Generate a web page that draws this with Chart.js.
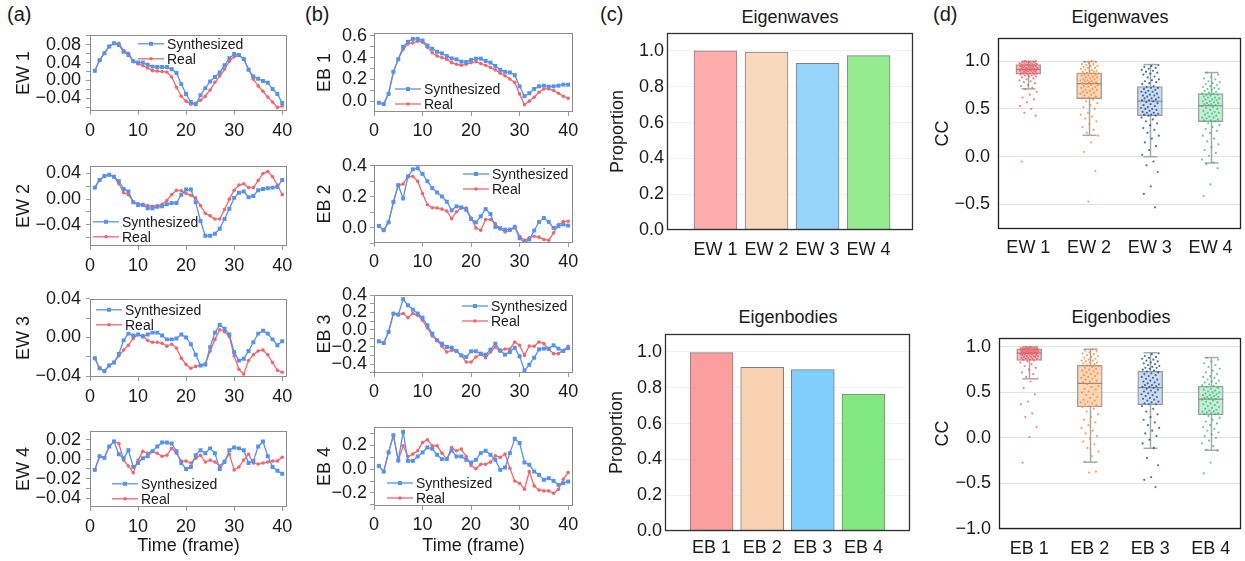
<!DOCTYPE html>
<html>
<head>
<meta charset="utf-8">
<script src="https://cdn.jsdelivr.net/npm/chart.js@4.4.0/dist/chart.umd.min.js"></script>
<style>
  body { margin: 0; background: #fff; width: 1245px; height: 561px; position: relative; overflow: hidden;
         font-family: "Liberation Sans", Arial, sans-serif; color: #1a1a1a; }
  canvas { position: absolute; }
  .panel { position: absolute; font-size: 20px; line-height: 20px; }
  .ttl { position: absolute; font-size: 18px; line-height: 18px; transform: translateX(-50%); white-space: nowrap; }
</style>
</head>
<body>
<div class="panel" style="left:7px;top:4px">(a)</div>
<div class="panel" style="left:305px;top:4px">(b)</div>
<div class="panel" style="left:600px;top:4px">(c)</div>
<div class="panel" style="left:933px;top:4px">(d)</div>
<div class="ttl" style="left:790px;top:8px">Eigenwaves</div>
<div class="ttl" style="left:788px;top:308px">Eigenbodies</div>
<div class="ttl" style="left:1120px;top:8px">Eigenwaves</div>
<div class="ttl" style="left:1121px;top:308px">Eigenbodies</div>
<script>
// ---- Data ----
const frames = [1,2,3,4,5,6,7,8,9,10,11,12,13,14,15,16,17,18,19,20,
                21,22,23,24,25,26,27,28,29,30,31,32,33,34,35,36,37,38,39,40];

// (a) eigenwaves, synthesized vs real
const ew1Synth = [0.022,0.045,0.061,0.076,0.083,0.079,0.064,0.057,0.043,0.040, 0.040,0.035,0.031,0.030,0.030,0.030,0.025,0.017,-0.008,-0.030,
                  -0.048,-0.053,-0.033,-0.017,-0.002,0.008,0.018,0.034,0.050,0.059, 0.057,0.048,0.024,0.009,0.004,-0.001,-0.005,-0.019,-0.030,-0.050];
const ew1Real  = [0.022,0.045,0.061,0.076,0.083,0.083,0.067,0.061,0.044,0.037, 0.033,0.028,0.022,0.021,0.020,0.019,0.008,-0.015,-0.035,-0.046,
                  -0.053,-0.051,-0.044,-0.035,-0.021,-0.004,0.010,0.025,0.043,0.053, 0.056,0.048,0.025,0.003,-0.012,-0.024,-0.037,-0.048,-0.060,-0.057];
const ew2Synth = [0.018,0.030,0.036,0.038,0.035,0.028,0.016,0.012,-0.005,-0.009, -0.009,-0.014,-0.014,-0.012,-0.011,-0.008,-0.006,-0.006,0.007,0.015,
                  0.015,-0.005,-0.034,-0.057,-0.057,-0.054,-0.046,-0.031,-0.015,0.002, 0.010,0.012,0.003,0.005,0.014,0.016,0.017,0.018,0.019,0.030];
const ew2Real  = [0.018,0.030,0.036,0.038,0.035,0.024,0.010,0.007,-0.004,-0.007, -0.008,-0.010,-0.011,-0.010,-0.008,-0.002,0.007,0.014,0.013,0.009,
                  0.006,0.002,-0.010,-0.022,-0.026,-0.031,-0.031,-0.016,0.000,0.014, 0.022,0.024,0.018,0.018,0.029,0.040,0.043,0.035,0.022,0.007];
const ew3Synth = [-0.0215,-0.032,-0.035,-0.029,-0.026,-0.017,-0.003,0.004,0.002,0.003, 0.001,0.003,0.005,0.005,0.002,-0.002,-0.002,-0.001,0.003,0.000,
                  -0.007,-0.018,-0.029,-0.028,-0.010,0.005,0.013,0.009,0.003,-0.015, -0.024,-0.022,-0.014,-0.005,0.004,0.007,0.004,-0.002,-0.008,-0.004];
const ew3Real  = [-0.0215,-0.032,-0.035,-0.029,-0.026,-0.019,-0.013,-0.008,-0.001,0.003, 0.002,-0.003,-0.005,-0.005,-0.006,-0.009,-0.007,-0.011,-0.0215,-0.028,
                  -0.032,-0.030,-0.029,-0.028,-0.014,-0.002,0.008,0.006,0.001,-0.019, -0.033,-0.038,-0.024,-0.018,-0.014,-0.013,-0.018,-0.026,-0.034,-0.036];
const ew4Synth = [-0.011,0.003,0.0013,0.013,0.018,0.005,0.001,0.009,-0.008,-0.004, 0.001,0.003,0.008,0.013,0.017,0.017,0.016,0.008,-0.004,-0.010,
                  -0.008,0.004,0.009,0.006,0.011,0.006,-0.010,-0.003,0.009,0.012, 0.011,0.009,-0.004,-0.002,0.013,0.018,0.003,-0.008,-0.012,-0.015];
const ew4Real  = [-0.011,0.003,0.0013,0.013,0.018,0.016,-0.001,-0.007,-0.014,-0.001, 0.008,0.006,0.008,0.006,0.003,0.004,0.011,0.006,-0.002,-0.002,
                  -0.004,0.001,0.004,-0.003,-0.001,-0.003,-0.007,-0.002,0.005,-0.011, -0.008,-0.001,0.005,-0.004,-0.005,-0.004,-0.003,-0.002,-0.002,0.002];

// (b) eigenbodies, synthesized vs real
const eb1Synth = [-0.012,-0.024,0.069,0.27,0.384,0.498,0.543,0.57,0.57,0.555, 0.51,0.48,0.453,0.438,0.414,0.393,0.384,0.363,0.36,0.378,
                  0.39,0.39,0.369,0.354,0.324,0.288,0.27,0.264,0.24,0.138, 0.048,0.075,0.114,0.138,0.144,0.135,0.138,0.144,0.153,0.153];
const eb1Real  = [-0.012,-0.024,0.069,0.27,0.384,0.474,0.525,0.534,0.549,0.54, 0.495,0.444,0.414,0.40,0.384,0.354,0.339,0.33,0.339,0.354,
                  0.363,0.345,0.33,0.309,0.288,0.258,0.234,0.204,0.174,0.069, -0.03,0.003,0.039,0.084,0.114,0.114,0.099,0.075,0.048,0.03];
const eb2Synth = [0.011,-0.017,0.034,0.166,0.275,0.189,0.331,0.378,0.385,0.348, 0.301,0.256,0.228,0.202,0.168,0.112,0.138,0.131,0.116,0.056,
                  0.034,0.073,0.12,0.088,0.004,-0.004,-0.013,-0.013,0.0,-0.069, -0.099,-0.077,-0.019,0.037,0.062,0.037,-0.002,0.009,0.021,0.013];
const eb2Real  = [0.011,-0.017,0.034,0.166,0.275,0.282,0.335,0.331,0.301,0.221, 0.148,0.129,0.127,0.12,0.108,0.058,0.103,0.127,0.127,0.062,
                  -0.002,-0.017,0.052,0.052,0.026,-0.009,-0.028,-0.019,0.009,-0.056, -0.082,-0.067,-0.056,-0.062,-0.077,-0.082,-0.034,0.019,0.039,0.041];
const eb3Synth = [-0.135,-0.155,-0.027,0.186,0.174,0.352,0.282,0.232,0.186,0.139, 0.05,-0.046,-0.124,-0.162,-0.201,-0.209,-0.247,-0.298,-0.317,-0.251,
                  -0.251,-0.278,-0.29,-0.232,-0.162,-0.24,-0.29,-0.259,-0.209,-0.309, -0.472,-0.406,-0.325,-0.228,-0.22,-0.22,-0.182,-0.22,-0.247,-0.213];
const eb3Real  = [-0.135,-0.155,-0.027,0.186,0.174,0.186,0.139,0.186,0.166,0.108, 0.019,-0.073,-0.124,-0.193,-0.259,-0.24,-0.251,-0.298,-0.375,-0.375,
                  -0.317,-0.286,-0.325,-0.259,-0.201,-0.251,-0.224,-0.224,-0.143,-0.182, -0.298,-0.189,-0.193,-0.143,-0.162,-0.228,-0.278,-0.278,-0.24,-0.193];
const eb4Synth = [0.028,-0.02,0.141,0.285,0.073,0.313,0.07,0.07,0.107,0.141, 0.183,0.172,0.121,0.085,0.085,0.158,0.107,0.107,0.079,0.056,
                  0.079,0.135,0.155,0.121,0.079,-0.006,0.014,0.135,0.256,0.22, 0.056,0.037,-0.02,-0.048,-0.09,-0.076,-0.099,-0.132,-0.118,-0.104];
const eb4Real  = [0.028,-0.02,0.141,0.285,0.073,0.197,0.107,0.127,0.155,0.225, 0.248,0.197,0.197,0.135,0.085,0.183,0.155,0.169,0.107,0.031,
                  0.003,0.042,0.042,0.059,0.113,0.099,0.127,0.008,-0.099,-0.118, -0.169,-0.02,-0.141,-0.175,-0.183,-0.183,-0.203,-0.169,-0.085,-0.028];

// (c) proportions
const ewLabels = ['EW 1', 'EW 2', 'EW 3', 'EW 4'];
const ebLabels = ['EB 1', 'EB 2', 'EB 3', 'EB 4'];
const ewProportion = [1.0, 0.993, 0.931, 0.974];
const ebProportion = [0.996, 0.914, 0.901, 0.765];

// (d) correlation coefficient box statistics
const ewLow = [0.71, 0.224, 0.0, -0.065];
const ewQ1  = [0.863, 0.608, 0.429, 0.367];
const ewMed = [0.914, 0.765, 0.582, 0.534];
const ewQ3  = [0.965, 0.878, 0.735, 0.66];
const ewHigh = [1.0, 0.996, 0.965, 0.881];
const ebLow = [0.649, -0.266, -0.114, -0.135];
const ebQ1  = [0.851, 0.34, 0.365, 0.255];
const ebMed = [0.932, 0.599, 0.553, 0.426];
const ebQ3  = [0.979, 0.798, 0.734, 0.57];
const ebHigh = [1.0, 0.975, 0.936, 0.883];

// (d) individual CC values (estimated from the scattered dots)
const ccEW1 = [1.00,1.00,0.99,0.99,0.99,0.99,0.98,0.98,0.98,0.98,0.97,0.97,0.97,0.97,0.97,0.96,0.96,0.96,0.96,0.95,
               0.95,0.95,0.95,0.94,0.94,0.94,0.93,0.93,0.93,0.93,0.92,0.92,0.92,0.92,0.91,0.91,0.91,0.91,0.90,0.90,
               0.90,0.90,0.89,0.89,0.89,0.88,0.88,0.88,0.87,0.87,0.87,0.86,0.86,0.86,0.85,0.85,0.84,0.84,0.83,0.82,
               0.81,0.80,0.79,0.78,0.77,0.75,0.74,0.72,0.71,0.68,0.65,0.62,0.60,0.57,0.53,0.50,0.46,0.43,0.99,-0.05];
const ccEW2 = [1.00,0.99,0.99,0.98,0.97,0.97,0.96,0.95,0.95,0.94,0.93,0.93,0.92,0.91,0.91,0.90,0.90,0.89,0.89,0.88,
               0.87,0.87,0.86,0.86,0.85,0.85,0.84,0.83,0.83,0.82,0.81,0.81,0.80,0.80,0.79,0.79,0.78,0.78,0.77,0.77,
               0.76,0.75,0.75,0.74,0.73,0.73,0.72,0.71,0.70,0.70,0.69,0.68,0.67,0.67,0.66,0.65,0.64,0.63,0.62,0.61,
               0.60,0.58,0.56,0.54,0.52,0.50,0.46,0.44,0.42,0.40,0.37,0.34,0.31,0.28,0.25,0.22,0.15,0.05,-0.15,-0.47];
const ccEW3 = [0.96,0.95,0.94,0.93,0.92,0.91,0.90,0.89,0.88,0.87,0.86,0.84,0.83,0.81,0.80,0.79,0.78,0.77,0.76,0.74,
               0.73,0.72,0.72,0.71,0.70,0.69,0.68,0.68,0.67,0.66,0.65,0.64,0.64,0.63,0.62,0.61,0.61,0.60,0.59,0.59,
               0.58,0.57,0.56,0.55,0.54,0.53,0.52,0.51,0.50,0.50,0.49,0.48,0.47,0.46,0.46,0.45,0.44,0.44,0.43,0.43,
               0.41,0.39,0.37,0.35,0.33,0.30,0.28,0.25,0.22,0.19,0.15,0.11,0.07,0.02,-0.05,-0.09,-0.16,-0.31,-0.39,-0.53];
const ccEW4 = [0.88,0.86,0.84,0.82,0.81,0.79,0.78,0.77,0.76,0.75,0.74,0.73,0.72,0.71,0.71,0.70,0.69,0.68,0.67,0.66,
               0.66,0.65,0.65,0.64,0.63,0.62,0.62,0.61,0.60,0.60,0.59,0.58,0.58,0.57,0.56,0.56,0.55,0.55,0.54,0.54,
               0.53,0.52,0.51,0.50,0.49,0.48,0.47,0.46,0.46,0.45,0.44,0.43,0.42,0.41,0.41,0.40,0.39,0.38,0.38,0.37,
               0.35,0.33,0.31,0.29,0.27,0.25,0.22,0.19,0.16,0.13,0.10,0.07,0.04,0.01,-0.03,-0.06,-0.08,-0.12,-0.29,-0.41];
const ccEB1 = [1.00,1.00,1.00,0.99,0.99,0.99,0.99,0.99,0.98,0.98,0.98,0.98,0.98,0.98,0.98,0.97,0.97,0.97,0.97,0.96,
               0.96,0.96,0.96,0.95,0.95,0.95,0.95,0.95,0.94,0.94,0.94,0.94,0.94,0.93,0.93,0.93,0.93,0.93,0.93,0.93,
               0.92,0.92,0.92,0.91,0.91,0.91,0.90,0.90,0.90,0.89,0.89,0.89,0.88,0.88,0.87,0.87,0.87,0.86,0.86,0.85,
               0.84,0.83,0.81,0.79,0.77,0.75,0.72,0.70,0.67,0.65,0.62,0.55,0.48,0.40,0.37,0.27,0.23,0.12,0.01,-0.27];
const ccEB2 = [0.97,0.96,0.95,0.94,0.93,0.92,0.91,0.90,0.89,0.88,0.87,0.86,0.85,0.85,0.84,0.83,0.83,0.82,0.81,0.80,
               0.79,0.78,0.77,0.76,0.75,0.74,0.73,0.72,0.71,0.70,0.69,0.68,0.67,0.66,0.65,0.64,0.63,0.62,0.61,0.60,
               0.59,0.57,0.56,0.54,0.53,0.51,0.50,0.48,0.47,0.45,0.44,0.42,0.41,0.40,0.39,0.38,0.37,0.36,0.35,0.34,
               0.32,0.29,0.26,0.23,0.20,0.17,0.14,0.11,0.08,0.05,0.02,-0.01,-0.04,-0.07,-0.11,-0.15,-0.20,-0.26,-0.37,-0.38];
const ccEB3 = [0.93,0.92,0.90,0.89,0.88,0.87,0.86,0.85,0.84,0.83,0.82,0.81,0.80,0.79,0.78,0.77,0.77,0.76,0.75,0.74,
               0.73,0.72,0.71,0.70,0.69,0.68,0.67,0.66,0.65,0.64,0.63,0.62,0.61,0.60,0.59,0.58,0.58,0.57,0.56,0.56,
               0.55,0.54,0.53,0.52,0.51,0.50,0.49,0.48,0.47,0.46,0.45,0.44,0.43,0.42,0.41,0.40,0.39,0.38,0.37,0.37,
               0.35,0.32,0.29,0.26,0.23,0.20,0.17,0.14,0.11,0.08,0.05,0.02,-0.02,-0.06,-0.11,-0.22,-0.30,-0.43,-0.46,-0.54];
const ccEB4 = [0.88,0.86,0.84,0.82,0.80,0.78,0.76,0.74,0.72,0.70,0.68,0.67,0.66,0.64,0.63,0.62,0.61,0.60,0.59,0.58,
               0.57,0.56,0.55,0.54,0.53,0.52,0.51,0.50,0.50,0.49,0.48,0.47,0.47,0.46,0.45,0.45,0.44,0.44,0.43,0.43,
               0.42,0.41,0.40,0.39,0.38,0.37,0.36,0.35,0.34,0.33,0.32,0.31,0.30,0.29,0.29,0.28,0.27,0.27,0.26,0.26,
               0.24,0.22,0.20,0.18,0.16,0.14,0.12,0.10,0.08,0.06,0.04,0.02,0.00,-0.03,-0.06,-0.09,-0.13,-0.14,-0.27,-0.39];

// ---- Styling ----
const BLUE = '#5592ee';
const RED = '#f0666a';
Chart.defaults.font.family = '"Liberation Sans", Arial, sans-serif';
Chart.defaults.font.size = 18;
Chart.defaults.color = '#1a1a1a';
Chart.defaults.animation = false;

// number label with a real minus sign
function fmt(v, dec) {
    const s = Math.abs(v).toFixed(dec);
    return (v < -1e-9 ? '\u2212' : '') + s;
}
function isMajor(v, major) {
    const r = v / major;
    return Math.abs(r - Math.round(r)) < 1e-6;
}
// spread dots sideways around the box centre (low-discrepancy sequence, no randomness)
function jitter(k) {
    const f = (k * 0.618034 + 0.31) % 1;
    return (f - 0.5) * 0.3;
}

function makeCanvas(box) {
    const c = document.createElement('canvas');
    c.width = box.x1 - box.x0;
    c.height = box.y1 - box.y0;
    c.style.left = box.x0 + 'px';
    c.style.top = box.y0 + 'px';
    document.body.appendChild(c);
    return c;
}

// Draws the full rectangle around the plot area
function framePlugin(color, width) {
    return {
        id: 'frame',
        afterDatasetsDraw(chart) {
            const a = chart.chartArea, ctx = chart.ctx;
            ctx.save();
            ctx.strokeStyle = color;
            ctx.lineWidth = width;
            ctx.strokeRect(Math.round(a.left) + 0.5, Math.round(a.top) + 0.5,
                           Math.round(a.right - a.left) - 1, Math.round(a.bottom - a.top) - 1);
            ctx.restore();
        }
    };
}

// Small legend placed inside the plot area
function legendPlugin(dx, dy) {
    return {
        id: 'inLegend',
        afterDraw(chart) {
            const a = chart.chartArea, ctx = chart.ctx;
            chart.data.datasets.forEach((ds, k) => {
                const x = a.left + dx, y = a.top + dy + k * 15;
                ctx.save();
                ctx.strokeStyle = ds.borderColor;
                ctx.fillStyle = ds.borderColor;
                ctx.lineWidth = 1.3;
                ctx.beginPath(); ctx.moveTo(x, y); ctx.lineTo(x + 26, y); ctx.stroke();
                if (k === 0) {
                    ctx.fillRect(x + 11, y - 2, 4, 4);
                } else {
                    ctx.beginPath(); ctx.arc(x + 13, y, 1.8, 0, Math.PI * 2); ctx.fill();
                }
                ctx.fillStyle = '#1a1a1a';
                ctx.font = '14px "Liberation Sans", Arial, sans-serif';
                ctx.textBaseline = 'middle';
                ctx.textAlign = 'left';
                ctx.fillText(ds.label, x + 29, y + 1);
                ctx.restore();
            });
        }
    };
}

// Whiskers, caps and medians for the box plots
function boxPartsPlugin(st) {
    return {
        id: 'boxParts',
        beforeDatasetsDraw(chart) {
            const xs = chart.scales.x, ys = chart.scales.y, ctx = chart.ctx;
            ctx.save();
            ctx.strokeStyle = '#a8a8a8';
            ctx.lineWidth = 1.5;
            st.low.forEach((lo, i) => {
                const px = Math.round(xs.getPixelForValue(i + 1)) + 0.5;
                [[st.high[i], st.q3[i]], [st.q1[i], lo]].forEach(([a, b]) => {
                    ctx.beginPath();
                    ctx.moveTo(px, ys.getPixelForValue(a));
                    ctx.lineTo(px, ys.getPixelForValue(b));
                    ctx.stroke();
                });
                [st.high[i], lo].forEach(v => {
                    const py = ys.getPixelForValue(v);
                    ctx.beginPath(); ctx.moveTo(px - 7, py); ctx.lineTo(px + 7, py); ctx.stroke();
                });
            });
            ctx.restore();
        },
        afterDatasetDraw(chart, args) {
            if (args.meta.type !== 'bar') return;
            const xs = chart.scales.x, ys = chart.scales.y, ctx = chart.ctx;
            ctx.save();
            ctx.strokeStyle = '#8c8c8c';
            ctx.lineWidth = 1.2;
            st.med.forEach((m, i) => {
                const px = xs.getPixelForValue(i + 1), py = ys.getPixelForValue(m);
                ctx.beginPath(); ctx.moveTo(px - 12.5, py); ctx.lineTo(px + 12.5, py); ctx.stroke();
            });
            ctx.restore();
        }
    };
}

// ---- (a) and (b): line charts ----
const colA = { x0: 0, x1: 300, yPad: 5, xPad: 5, titlePad: 13 };
const colB = { x0: 300, x1: 590, yPad: 3, xPad: 4, titlePad: 14 };

function makeLineChart(p) {
    const box = { x0: p.col.x0, x1: p.col.x1, y0: p.plot.t - 14, y1: p.last ? 561 : p.plot.b + 30 };
    new Chart(makeCanvas(box), {
        type: 'line',
        data: {
            datasets: [
                { label: 'Synthesized', data: frames.map((f, i) => ({ x: f, y: p.synth[i] })),
                  borderColor: BLUE, backgroundColor: BLUE, borderWidth: 1.3, tension: 0,
                  pointStyle: 'rect', pointRadius: 2.8, pointBorderWidth: 0 },
                { label: 'Real', data: frames.map((f, i) => ({ x: f, y: p.real[i] })),
                  borderColor: RED, backgroundColor: RED, borderWidth: 1.3, tension: 0,
                  pointStyle: 'circle', pointRadius: 1.8, pointBorderWidth: 0 }
            ]
        },
        options: {
            responsive: false,
            layout: { padding: { top: p.plot.t - box.y0, right: box.x1 - p.plot.r, left: 0, bottom: 0 } },
            plugins: { legend: { display: false }, tooltip: { enabled: false } },
            scales: {
                x: {
                    type: 'linear', min: 0, max: 41,
                    afterFit: s => { s.height = box.y1 - p.plot.b; },
                    border: { display: false },
                    grid: { drawOnChartArea: false, tickLength: 4, tickColor: '#9a9a9a' },
                    ticks: { stepSize: 10, includeBounds: false, maxRotation: 0, padding: p.col.xPad },
                    title: { display: !!p.last, text: 'Time (frame)', padding: { top: 0, bottom: 4 } }
                },
                y: {
                    min: p.min, max: p.max,
                    afterFit: s => { s.width = p.plot.l - box.x0; },
                    border: { display: false },
                    grid: { drawOnChartArea: false, tickLength: 4, tickColor: '#9a9a9a' },
                    ticks: { stepSize: p.minor, includeBounds: false, autoSkip: false, padding: p.col.yPad,
                             callback: v => isMajor(v, p.major) ? fmt(v, p.dec) : '' },
                    title: { display: true, text: p.yTitle, padding: { top: p.col.titlePad, bottom: 0 } }
                }
            }
        },
        plugins: [framePlugin('#8c8c8c', 1), legendPlugin(p.legend[0], p.legend[1])]
    });
}

makeLineChart({ col: colA, plot: { l: 90, t: 33, r: 287, b: 111 }, synth: ew1Synth, real: ew1Real, yTitle: 'EW 1',
                min: -0.068, max: 0.102, minor: 0.02, major: 0.04, dec: 2, legend: [48, 9] });
makeLineChart({ col: colA, plot: { l: 90, t: 164, r: 287, b: 246 }, synth: ew2Synth, real: ew2Real, yTitle: 'EW 2',
                min: -0.073, max: 0.052, minor: 0.02, major: 0.04, dec: 2, legend: [3, 56] });
makeLineChart({ col: colA, plot: { l: 90, t: 297, r: 287, b: 377 }, synth: ew3Synth, real: ew3Real, yTitle: 'EW 3',
                min: -0.041, max: 0.0401, minor: 0.02, major: 0.04, dec: 2, legend: [6, 11] });
makeLineChart({ col: colA, plot: { l: 90, t: 429, r: 287, b: 507 }, synth: ew4Synth, real: ew4Real, yTitle: 'EW 4',
                min: -0.049, max: 0.029, minor: 0.01, major: 0.02, dec: 2, legend: [22, 53], last: true });

makeLineChart({ col: colB, plot: { l: 374, t: 33, r: 573, b: 112 }, synth: eb1Synth, real: eb1Real, yTitle: 'EB 1',
                min: -0.096, max: 0.624, minor: 0.1, major: 0.2, dec: 1, legend: [21, 56] });
makeLineChart({ col: colB, plot: { l: 374, t: 165, r: 573, b: 243 }, synth: eb2Synth, real: eb2Real, yTitle: 'EB 2',
                min: -0.1, max: 0.406, minor: 0.1, major: 0.2, dec: 1, legend: [89, 9] });
makeLineChart({ col: colB, plot: { l: 374, t: 295, r: 573, b: 373 }, synth: eb3Synth, real: eb3Real, yTitle: 'EB 3',
                min: -0.502, max: 0.401, minor: 0.1, major: 0.2, dec: 1, legend: [88, 11] });
makeLineChart({ col: colB, plot: { l: 374, t: 427, r: 573, b: 506 }, synth: eb4Synth, real: eb4Real, yTitle: 'EB 4',
                min: -0.31, max: 0.355, minor: 0.1, major: 0.2, dec: 1, legend: [13, 56], last: true });

// ---- (c): proportion bars ----
function makeBarChart(p) {
    const box = p.box;
    new Chart(makeCanvas(box), {
        type: 'bar',
        data: {
            datasets: [{
                data: p.values.map((v, i) => ({ x: i + 1, y: v })),
                backgroundColor: p.colors, borderColor: '#808080', borderWidth: 1,
                borderSkipped: false, barThickness: 43
            }]
        },
        options: {
            responsive: false,
            layout: { padding: { top: p.plot.t - box.y0, right: box.x1 - p.plot.r, left: 0, bottom: 0 } },
            plugins: { legend: { display: false }, tooltip: { enabled: false } },
            scales: {
                x: {
                    type: 'linear', min: p.xMin, max: p.xMax, offset: false,
                    afterFit: s => { s.height = box.y1 - p.plot.b; },
                    afterBuildTicks: s => { s.ticks = p.labels.map((_, i) => ({ value: i + 1 })); },
                    grid: { display: false, drawTicks: false, tickLength: 0, offset: false },
                    border: { display: false },
                    ticks: { autoSkip: false, maxRotation: 0, padding: p.xPad,
                             callback: v => p.labels[Math.round(v) - 1] }
                },
                y: {
                    min: 0, max: 1.1,
                    afterFit: s => { s.width = p.plot.l - box.x0; },
                    grid: { color: '#f1f1f1', drawTicks: false, tickLength: 0 },
                    border: { display: false },
                    ticks: { stepSize: 0.2, includeBounds: false, padding: 3, callback: v => fmt(v, 1) },
                    title: { display: true, text: 'Proportion', padding: { top: p.titlePad, bottom: 0 } }
                }
            }
        },
        plugins: [framePlugin('#333333', 1.3)]
    });
}

makeBarChart({ box: { x0: 590, y0: 19, x1: 925, y1: 265 }, plot: { l: 667, t: 33, r: 913, b: 230 },
               values: ewProportion, labels: ewLabels, xMin: 0.05, xMax: 4.87, xPad: 9, titlePad: 17,
               colors: ['#ffacac', '#f8d9bb', '#96d4fb', '#94ec8e'] });
makeBarChart({ box: { x0: 590, y0: 320, x1: 925, y1: 561 }, plot: { l: 665, t: 334, r: 910, b: 531 },
               values: ebProportion, labels: ebLabels, xMin: 0.08, xMax: 4.92, xPad: 6, titlePad: 16,
               colors: ['#fb9e9e', '#f8d2b3', '#80cefc', '#80e87e'] });

// ---- (d): CC box plots with dots ----
function makeBoxChart(p) {
    const box = p.box;
    const dotSets = p.groups.map((vals, g) => ({
        type: 'scatter',
        data: vals.map((v, k) => ({ x: g + 1 + jitter(k + g * 7), y: v })),
        backgroundColor: p.dotColors[g], pointRadius: 1.1, pointBorderWidth: 0, order: 1
    }));
    new Chart(makeCanvas(box), {
        type: 'bar',
        data: {
            datasets: dotSets.concat([{
                type: 'bar',
                data: p.stats.q1.map((q, i) => ({ x: i + 1, y: [q, p.stats.q3[i]] })),
                backgroundColor: p.boxColors, borderColor: '#9c9c9c', borderWidth: 1,
                borderSkipped: false, barThickness: 25, order: 2
            }])
        },
        options: {
            responsive: false,
            layout: { padding: { top: p.plot.t - box.y0, right: box.x1 - p.plot.r, left: 0, bottom: 0 } },
            plugins: { legend: { display: false }, tooltip: { enabled: false } },
            scales: {
                x: {
                    type: 'linear', min: 0.5, max: 4.5, offset: false,
                    afterFit: s => { s.height = box.y1 - p.plot.b; },
                    afterBuildTicks: s => { s.ticks = p.labels.map((_, i) => ({ value: i + 1 })); },
                    grid: { display: false, drawTicks: false, tickLength: 0, offset: false },
                    border: { display: false },
                    ticks: { autoSkip: false, maxRotation: 0, padding: p.xPad,
                             callback: v => p.labels[Math.round(v) - 1] }
                },
                y: {
                    min: p.yMin, max: p.yMax,
                    afterFit: s => { s.width = p.plot.l - box.x0; },
                    grid: { color: '#e2e2e2', drawTicks: false, tickLength: 0 },
                    border: { display: false },
                    ticks: { stepSize: 0.5, includeBounds: false, padding: 8, callback: v => fmt(v, 1) },
                    title: { display: true, text: 'CC', padding: { top: 22, bottom: 0 } }
                }
            }
        },
        plugins: [boxPartsPlugin(p.stats), framePlugin('#222222', 1.3)]
    });
}

const dotColors = ['rgba(240,85,95,0.75)', 'rgba(255,135,50,0.8)', 'rgba(35,75,150,0.8)', 'rgba(50,190,115,0.75)'];
const boxColors = ['rgba(240,140,150,0.6)', 'rgba(253,190,140,0.6)', 'rgba(170,198,232,0.6)', 'rgba(160,225,185,0.6)'];

makeBoxChart({ box: { x0: 910, y0: 19, x1: 1245, y1: 265 }, plot: { l: 998, t: 33, r: 1242, b: 229 },
               labels: ewLabels, yMin: -0.757, yMax: 1.245, xPad: 8,
               groups: [ccEW1, ccEW2, ccEW3, ccEW4], dotColors: dotColors, boxColors: boxColors,
               stats: { low: ewLow, q1: ewQ1, med: ewMed, q3: ewQ3, high: ewHigh } });
makeBoxChart({ box: { x0: 910, y0: 319, x1: 1245, y1: 561 }, plot: { l: 999, t: 333, r: 1243, b: 529 },
               labels: ebLabels, yMin: -1.0, yMax: 1.1, xPad: 9,
               groups: [ccEB1, ccEB2, ccEB3, ccEB4], dotColors: dotColors, boxColors: boxColors,
               stats: { low: ebLow, q1: ebQ1, med: ebMed, q3: ebQ3, high: ebHigh } });
</script>
</body>
</html>
